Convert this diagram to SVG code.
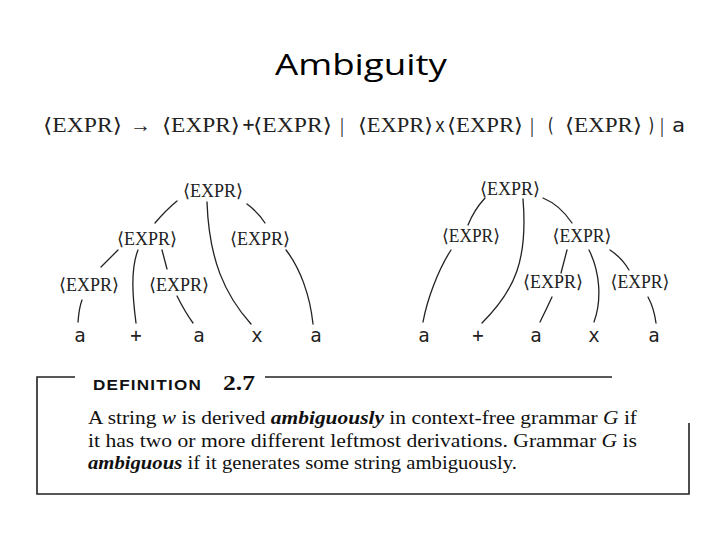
<svg xmlns="http://www.w3.org/2000/svg" width="720" height="540" viewBox="0 0 720 540">
<style>
.title{font-family:"Open Sans","Liberation Sans",sans-serif;font-size:30px;fill:#000}
.nt{font-family:"Liberation Serif","DejaVu Serif",serif;font-size:18px;fill:#222;text-anchor:middle}
.g{font-family:"Liberation Serif","DejaVu Serif",serif;font-size:20px;fill:#222}
.mono{font-family:"DejaVu Sans Mono","Liberation Mono",monospace;font-size:19px;fill:#222;text-anchor:middle}
.gm{font-family:"DejaVu Sans Mono","Liberation Mono",monospace;font-size:20px;fill:#222}
.def{font-family:"Liberation Serif","DejaVu Serif",serif;font-size:19px;fill:#111}
.hd{font-family:"Liberation Sans","DejaVu Sans",sans-serif;font-size:14px;font-weight:bold;letter-spacing:1px;fill:#111}
.num{font-family:"Liberation Serif","DejaVu Serif",serif;font-size:20px;font-weight:bold;fill:#111}
.edge{fill:none;stroke:#222;stroke-width:1.3;stroke-linecap:round}
.box{fill:none;stroke:#222;stroke-width:1.6}
</style>

<text class="title" x="275" y="75" textLength="172" lengthAdjust="spacingAndGlyphs">Ambiguity</text>

<g id="grammar">
<text class="g" x="43" y="132" textLength="79" lengthAdjust="spacingAndGlyphs">⟨EXPR⟩</text>
<text class="g" x="130" y="132" font-family="DejaVu Sans, sans-serif" font-size="24" textLength="21" lengthAdjust="spacingAndGlyphs">→</text>
<text class="g" x="162" y="132" textLength="78" lengthAdjust="spacingAndGlyphs">⟨EXPR⟩</text>
<text class="gm" x="242.5" y="131" font-size="14">+</text>
<text class="g" x="253" y="132" textLength="79" lengthAdjust="spacingAndGlyphs">⟨EXPR⟩</text>
<text class="g" x="340" y="132" font-family="DejaVu Sans Mono, monospace">|</text>
<text class="g" x="358" y="132" textLength="75" lengthAdjust="spacingAndGlyphs">⟨EXPR⟩</text>
<text class="gm" x="435" y="132" textLength="10" lengthAdjust="spacingAndGlyphs">x</text>
<text class="g" x="447" y="132" textLength="76" lengthAdjust="spacingAndGlyphs">⟨EXPR⟩</text>
<text class="g" x="530" y="132" font-family="DejaVu Sans Mono, monospace">|</text>
<text class="gm" x="546" y="132" textLength="9" lengthAdjust="spacingAndGlyphs">(</text>
<text class="g" x="565" y="132" textLength="77" lengthAdjust="spacingAndGlyphs">⟨EXPR⟩</text>
<text class="gm" x="647" y="132" textLength="9" lengthAdjust="spacingAndGlyphs">)</text>
<text class="g" x="660" y="132" font-family="DejaVu Sans Mono, monospace">|</text>
<text class="gm" x="672" y="132" textLength="13" lengthAdjust="spacingAndGlyphs">a</text>
</g>

<g id="connectors">
<path class="edge" d="M177,201 Q166,210 155,223"/>
<path class="edge" d="M207,202 C209,260 225,295 251,324"/>
<path class="edge" d="M247,204 Q258,212 265,223"/>
<path class="edge" d="M118,250 L101,267"/>
<path class="edge" d="M138,250 C130,270 133,300 136,323"/>
<path class="edge" d="M162,250 L167,269"/>
<path class="edge" d="M286,250 C300,268 310,295 313,324"/>
<path class="edge" d="M82,300 Q79,308 78,322"/>
<path class="edge" d="M177,296 Q185,312 193,323"/>
<path class="edge" d="M485,198 Q474,210 468,225"/>
<path class="edge" d="M523,199 C528,260 515,290 482,323"/>
<path class="edge" d="M543,198 Q560,205 572,223"/>
<path class="edge" d="M451,250 C438,270 427,300 423,322"/>
<path class="edge" d="M567,250 L561,273"/>
<path class="edge" d="M589,250 C600,272 602,300 594,322"/>
<path class="edge" d="M610,250 Q622,258 629,270"/>
<path class="edge" d="M552,297 Q546,310 540,322"/>
<path class="edge" d="M648,297 Q654,308 656,323"/>
</g>

<g id="t1-root"><text class="nt" x="213" y="197" textLength="60" lengthAdjust="spacingAndGlyphs">⟨EXPR⟩</text></g>
<g id="t1-l"><text class="nt" x="147" y="245" textLength="60" lengthAdjust="spacingAndGlyphs">⟨EXPR⟩</text></g>
<g id="t1-r"><text class="nt" x="260" y="245" textLength="60" lengthAdjust="spacingAndGlyphs">⟨EXPR⟩</text></g>
<g id="t1-ll"><text class="nt" x="89" y="291" textLength="60" lengthAdjust="spacingAndGlyphs">⟨EXPR⟩</text></g>
<g id="t1-lm"><text class="nt" x="179" y="291" textLength="60" lengthAdjust="spacingAndGlyphs">⟨EXPR⟩</text></g>
<g id="t1-a1"><text class="mono" x="80" y="342">a</text></g>
<g id="t1-plus"><text class="mono" x="136" y="342">+</text></g>
<g id="t1-a2"><text class="mono" x="199" y="342">a</text></g>
<g id="t1-x"><text class="mono" x="257" y="342">x</text></g>
<g id="t1-a3"><text class="mono" x="316" y="342">a</text></g>

<g id="t2-root"><text class="nt" x="510" y="195" textLength="60" lengthAdjust="spacingAndGlyphs">⟨EXPR⟩</text></g>
<g id="t2-l"><text class="nt" x="471" y="242" textLength="58" lengthAdjust="spacingAndGlyphs">⟨EXPR⟩</text></g>
<g id="t2-r"><text class="nt" x="582" y="242" textLength="59" lengthAdjust="spacingAndGlyphs">⟨EXPR⟩</text></g>
<g id="t2-rm"><text class="nt" x="553" y="288" textLength="60" lengthAdjust="spacingAndGlyphs">⟨EXPR⟩</text></g>
<g id="t2-rr"><text class="nt" x="640" y="288" textLength="59" lengthAdjust="spacingAndGlyphs">⟨EXPR⟩</text></g>
<g id="t2-a1"><text class="mono" x="424" y="342">a</text></g>
<g id="t2-plus"><text class="mono" x="478" y="342">+</text></g>
<g id="t2-a2"><text class="mono" x="536" y="342">a</text></g>
<g id="t2-x"><text class="mono" x="594" y="342">x</text></g>
<g id="t2-a3"><text class="mono" x="654" y="342">a</text></g>

<g id="definition">
<path class="box" d="M75,377 L37,377 L37,494 L689,494 L689,423"/>
<path class="box" d="M265,377 L612,377"/>
<text class="hd" x="93" y="390" textLength="109" lengthAdjust="spacingAndGlyphs">DEFINITION</text>
<text class="num" x="223" y="390" textLength="32" lengthAdjust="spacingAndGlyphs">2.7</text>
<text class="def" x="88" y="424" textLength="549" lengthAdjust="spacingAndGlyphs">A string <tspan font-style="italic">w</tspan> is derived <tspan font-style="italic" font-weight="bold">ambiguously</tspan> in context-free grammar <tspan font-style="italic">G</tspan> if</text>
<text class="def" x="88" y="447" textLength="549" lengthAdjust="spacingAndGlyphs">it has two or more different leftmost derivations.  Grammar <tspan font-style="italic">G</tspan> is</text>
<text class="def" x="88" y="469" textLength="429" lengthAdjust="spacingAndGlyphs"><tspan font-style="italic" font-weight="bold">ambiguous</tspan> if it generates some string ambiguously.</text>
</g>
</svg>
